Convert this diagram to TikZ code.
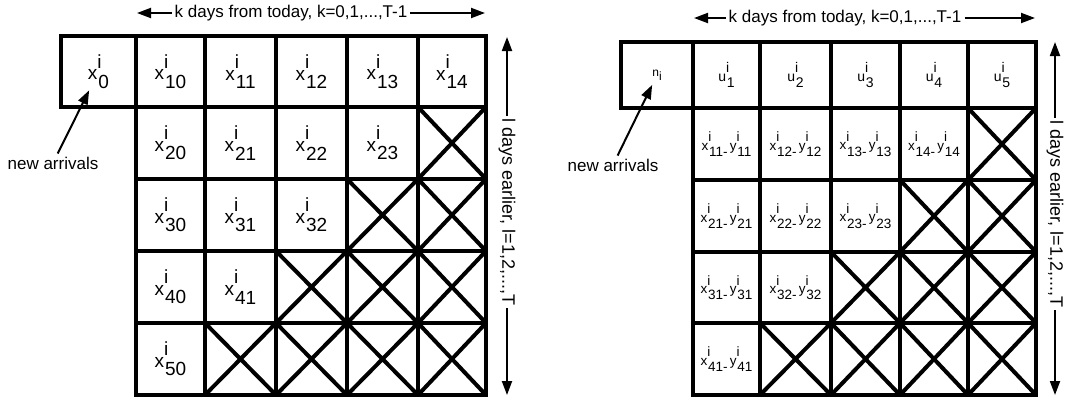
\documentclass[tikz,border=0pt]{standalone}
\usepackage{fontspec}
\setmainfont{Liberation Sans}
\usetikzlibrary{arrows.meta,positioning,calc}
\newcommand{\supsub}[3]{#1\rlap{\raisebox{.62em}{#2}}\kern.05em\raisebox{-.45em}{#3}}
\tikzset{
  gcell/.style 2 args={draw,line width=4pt,inner sep=0pt,outer sep=0pt,
                       minimum width=#1,minimum height=#2,font=\fontsize{19}{22}\selectfont},
  gsmall/.style={font=\fontsize{14}{16}\selectfont},
  gtiny/.style={font=\fontsize{13.5}{16}\selectfont},
  gcross/.style={path picture={\draw[line width=4pt]
      (path picture bounding box.north west) -- (path picture bounding box.south east)
      (path picture bounding box.north east) -- (path picture bounding box.south west);}},
  gflow/.style={-{Triangle[length=14pt,width=10pt]},line width=2pt},
  glbl/.style={font=\fontsize{17}{20}\selectfont,inner sep=3pt},
  gvlbl/.style={glbl,font=\fontsize{18}{20}\selectfont,rotate=-90},
}
\begin{document}
\begin{tikzpicture}[x=1pt,y=-1pt]
  \useasboundingbox (0,0) rectangle (1082,400);

  % left table: x values
  \foreach \c/\xa/\xb/\t in {0/61/136/0,1/136/205/10,2/205/276/11,3/276/347/12,4/347/418/13,5/418/486/14}
    \node[gcell={\xb-\xa}{71}] (L1\c) at ({(\xa+\xb)/2},71.5) {\supsub{x}{i}{\t}};
  \foreach \r/\ya/\yb in {2/107/179,3/179/251,4/251/323,5/323/395}
    \foreach \c/\xa/\xb in {1/136/205,2/205/276,3/276/347,4/347/418,5/418/486}{
      \pgfmathtruncatemacro{\k}{\c-1}
      \ifnum\c<\numexpr7-\r\relax
        \node[gcell={\xb-\xa}{\yb-\ya}] (L\r\c) at ({(\xa+\xb)/2},{(\ya+\yb)/2}) {\supsub{x}{i}{\r\k}};
      \else
        \node[gcell={\xb-\xa}{\yb-\ya},gcross] (L\r\c) at ({(\xa+\xb)/2},{(\ya+\yb)/2}) {};
      \fi
    }

  \node[glbl] (kL) at (291,13) {k days from today, k=0,1,...,T-1};
  \coordinate (kLa) at (137,13);
  \coordinate (kLb) at (485,13);
  \draw[gflow] (kL) -- (kLa);
  \draw[gflow] (kL) -- (kLb);

  \node[gvlbl] (lL) at (507,212) {l days earlier, l=1,2,...,T};
  \coordinate (lLa) at (507,37);
  \coordinate (lLb) at (507,395);
  \draw[gflow] (lL) -- (lLa);
  \draw[gflow] (lL) -- (lLb);

  \node[glbl] (naL) at (53,163) {new arrivals};
  \draw[gflow,shorten >=21pt] (naL) -- (L10.center);

  % right table: u values and x-y differences
  \node[gcell={72}{66},font=\fontsize{12}{14}\selectfont] (R10) at (657,75) {n\raisebox{-.3em}{i}};
  \foreach \c/\xa/\xb in {1/693/760,2/760/831,3/831/900,4/900/968,5/968/1036}
    \node[gcell={\xb-\xa}{66},gsmall] (R1\c) at ({(\xa+\xb)/2},75) {\supsub{u}{i}{\c}};
  \foreach \r/\ya/\yb in {2/108/180,3/180/252,4/252/323,5/323/395}
    \foreach \c/\xa/\xb in {1/693/760,2/760/831,3/831/900,4/900/968,5/968/1036}{
      \pgfmathtruncatemacro{\m}{\r-1}
      \ifnum\c<\numexpr7-\r\relax
        \node[gcell={\xb-\xa}{\yb-\ya},gtiny] (R\r\c) at ({(\xa+\xb)/2},{(\ya+\yb)/2})
          {\supsub{x}{i}{\m\c-}\,\supsub{y}{i}{\m\c}};
      \else
        \node[gcell={\xb-\xa}{\yb-\ya},gcross] (R\r\c) at ({(\xa+\xb)/2},{(\ya+\yb)/2}) {};
      \fi
    }

  \node[glbl] (kR) at (845,18) {k days from today, k=0,1,...,T-1};
  \coordinate (kRa) at (694,18);
  \coordinate (kRb) at (1035,18);
  \draw[gflow] (kR) -- (kRa);
  \draw[gflow] (kR) -- (kRb);

  \node[gvlbl] (lR) at (1055,214) {l days earlier, l=1,2,...,T};
  \coordinate (lRa) at (1055,42);
  \coordinate (lRb) at (1055,395);
  \draw[gflow] (lR) -- (lRa);
  \draw[gflow] (lR) -- (lRb);

  \node[glbl] (naR) at (613,165) {new arrivals};
  \draw[gflow,shorten >=11pt] (naR) -- (R10.center);
\end{tikzpicture}
\end{document}
